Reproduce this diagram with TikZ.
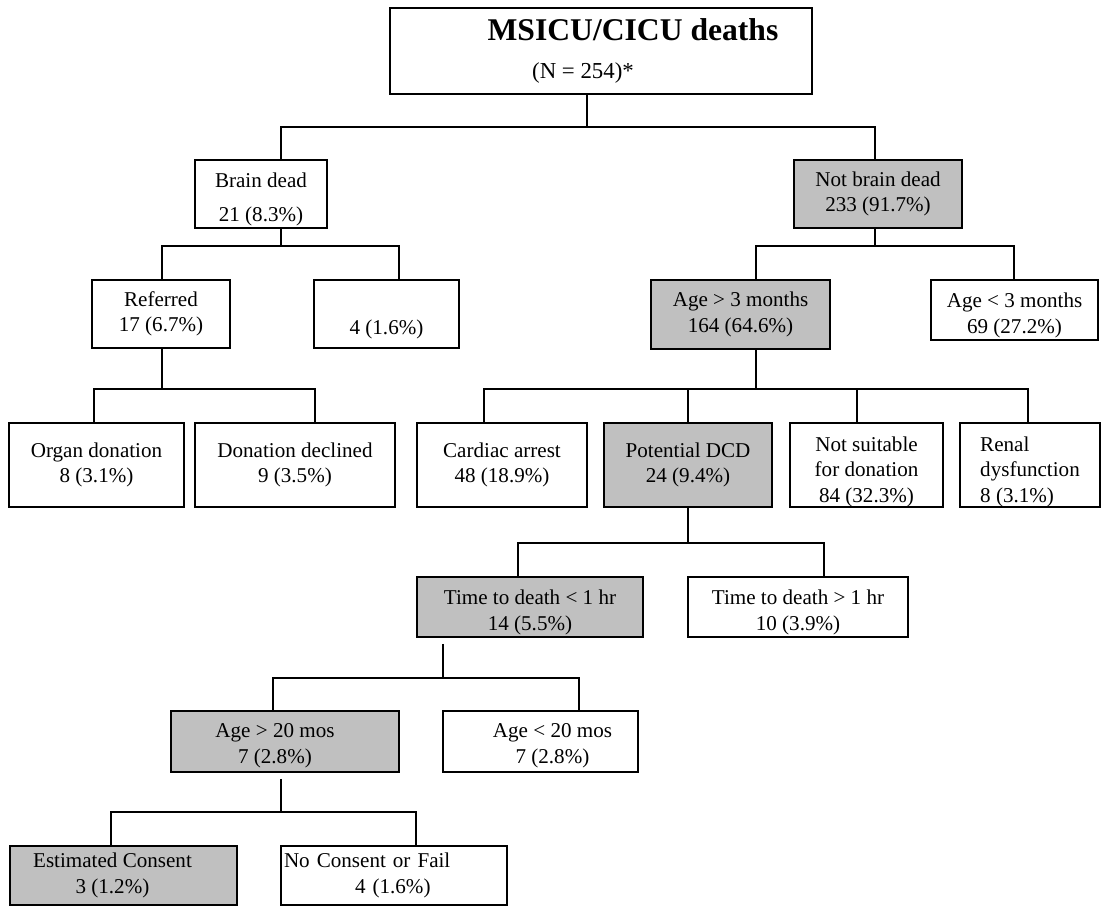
\documentclass[tikz,border=0pt]{standalone}
\usepackage{fontspec}
\setmainfont{Liberation Serif}
\definecolor{boxgray}{RGB}{192,192,192}
\tikzstyle{box} = [rectangle, draw=black, line width=0.9pt, inner sep=2pt, align=center, font=\fontsize{12}{14.5}\selectfont]
\tikzstyle{keybox} = [box, fill=boxgray]
\tikzstyle{link} = [line width=0.8pt]

\begin{document}
\begin{tikzpicture}[x=0.02cm, y=-0.02cm]
\useasboundingbox (0,0) rectangle (1104,907);

\node (top) [box, minimum width=8.44cm, minimum height=1.72cm, font=\fontsize{13}{22}\selectfont] at (601,51) {\hspace*{1.28cm}{\fontsize{18}{22}\selectfont\bfseries MSICU/CICU deaths}\\(N = 254)*\hspace*{0.72cm}};

\node (bd) [box, minimum width=2.64cm, minimum height=1.36cm, text height=31.7pt, text depth=-1.4pt] at (261,194) {Brain dead\\[5pt]21 (8.3\%)};
\node (nbd) [keybox, minimum width=3.36cm, minimum height=1.36cm] at (878,194) {Not brain dead\\233 (91.7\%)};

\node (ref) [box, minimum width=2.76cm, minimum height=1.36cm] at (161,314) {Referred\\17 (6.7\%)};
\node (bdrest) [box, minimum width=2.9cm, minimum height=1.36cm] at (386.5,314) {\mbox{}\\[11pt]4 (1.6\%)};
\node (agehi) [keybox, minimum width=3.58cm, minimum height=1.38cm] at (740.5,314.5) {Age > 3 months\\164 (64.6\%)};
\node (agelo) [box, minimum width=3.34cm, minimum height=1.2cm, text height=26.7pt, text depth=-1.4pt] at (1014.5,310) {Age < 3 months\\69 (27.2\%)};

\node (organ) [box, minimum width=3.5cm, minimum height=1.68cm] at (96.5,465) {Organ donation\\8 (3.1\%)};
\node (declined) [box, minimum width=4cm, minimum height=1.68cm] at (295,465) {Donation declined\\9 (3.5\%)};
\node (cardiac) [box, minimum width=3.4cm, minimum height=1.68cm] at (502,465) {Cardiac arrest\\48 (18.9\%)};
\node (dcd) [keybox, minimum width=3.36cm, minimum height=1.68cm] at (688,465) {Potential DCD\\24 (9.4\%)};
\node (unsuit) [box, minimum width=3.06cm, minimum height=1.68cm, text height=42.5pt, text depth=-2.7pt] at (866.5,465) {Not suitable\\for donation\\84 (32.3\%)};
\node (renal) [box, align=left, minimum width=2.8cm, minimum height=1.68cm, text height=42.5pt, text depth=-2.7pt] at (1030,465) {Renal\\dysfunction\\8 (3.1\%)};

\node (fast) [keybox, minimum width=4.52cm, minimum height=1.2cm, text height=26.7pt, text depth=-1.4pt] at (530,607) {Time to death < 1 hr\\14 (5.5\%)};
\node (slow) [box, minimum width=4.4cm, minimum height=1.2cm, text height=26.7pt, text depth=-1.4pt] at (798,607) {Time to death > 1 hr\\10 (3.9\%)};

\node (oldkid) [keybox, minimum width=4.56cm, minimum height=1.22cm, text height=25pt, text depth=0.3pt] at (285,741.5) {Age > 20 mos\hspace*{0.4cm}\\7 (2.8\%)\hspace*{0.4cm}};
\node (young) [box, minimum width=3.9cm, minimum height=1.22cm, text height=25pt, text depth=0.3pt] at (540.5,741.5) {\hspace*{0.48cm}Age < 20 mos\\\hspace*{0.48cm}7 (2.8\%)};

\node (consent) [keybox, minimum width=4.54cm, minimum height=1.18cm] at (123.5,875.5) {Estimated Consent\hspace*{0.44cm}\\3 (1.2\%)\hspace*{0.44cm}};
\node (noconsent) [box, align=left, inner xsep=1pt, text width=4.4cm, minimum width=4.52cm, minimum height=1.18cm] at (394,875.5) {No Consent or Fail\\\hspace*{1.42cm}4 (1.6\%)};

% deaths split
\coordinate (s0) at (587,127);
\coordinate (s0l) at (281,127);
\coordinate (s0r) at (875,127);
\draw [link] (top.south -| s0) -- (s0);
\draw [link] (bd.north -| s0l) -- (s0l) -- (s0r) -- (nbd.north -| s0r);

% brain dead
\coordinate (s1) at (281,246);
\coordinate (s1l) at (162,246);
\coordinate (s1r) at (399,246);
\draw [link] (bd.south -| s1) -- (s1);
\draw [link] (ref.north -| s1l) -- (s1l) -- (s1r) -- (bdrest.north -| s1r);

% not brain dead
\coordinate (s2) at (875,246);
\coordinate (s2l) at (756,246);
\coordinate (s2r) at (1014,246);
\draw [link] (nbd.south -| s2) -- (s2);
\draw [link] (agehi.north -| s2l) -- (s2l) -- (s2r) -- (agelo.north -| s2r);

% referred
\coordinate (s3) at (162,389);
\coordinate (s3l) at (94,389);
\coordinate (s3r) at (315,389);
\draw [link] (ref.south -| s3) -- (s3);
\draw [link] (organ.north -| s3l) -- (s3l) -- (s3r) -- (declined.north -| s3r);

% age > 3 months
\coordinate (s4) at (756,389);
\coordinate (s4l) at (484,389);
\coordinate (s4r) at (1028,389);
\coordinate (s4a) at (688,389);
\coordinate (s4b) at (857,389);
\draw [link] (agehi.south -| s4) -- (s4);
\draw [link] (cardiac.north -| s4l) -- (s4l) -- (s4r) -- (renal.north -| s4r);
\draw [link] (s4a) -- (dcd.north -| s4a);
\draw [link] (s4b) -- (unsuit.north -| s4b);

% potential DCD
\coordinate (s5) at (688,543);
\coordinate (s5l) at (518,543);
\coordinate (s5r) at (824,543);
\draw [link] (dcd.south -| s5) -- (s5);
\draw [link] (fast.north -| s5l) -- (s5l) -- (s5r) -- (slow.north -| s5r);

% time to death < 1 hr
\coordinate (s6) at (443,678);
\coordinate (s6l) at (273,678);
\coordinate (s6r) at (579,678);
\draw [link, shorten <=0.12cm] (fast.south -| s6) -- (s6);
\draw [link] (oldkid.north -| s6l) -- (s6l) -- (s6r) -- (young.north -| s6r);

% age > 20 mos
\coordinate (s7) at (281,812);
\coordinate (s7l) at (111,812);
\coordinate (s7r) at (416,812);
\draw [link, shorten <=0.12cm] (oldkid.south -| s7) -- (s7);
\draw [link] (consent.north -| s7l) -- (s7l) -- (s7r) -- (noconsent.north -| s7r);

\end{tikzpicture}
\end{document}
